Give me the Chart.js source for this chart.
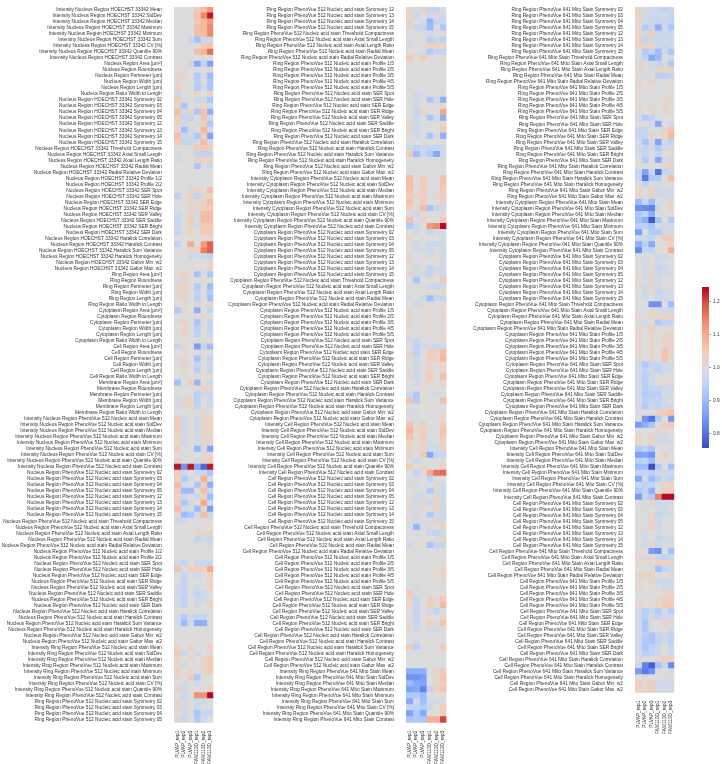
<!DOCTYPE html>
<html>
<head>
<meta charset="utf-8">
<title>Feature heatmap</title>
<script src="https://cdn.jsdelivr.net/npm/chart.js@4"></script>
<style>
    html, body { margin: 0; padding: 0; background: #fff; }
    canvas { position: absolute; top: 0; }
</style>
</head>
<body>
<canvas id="panelA" style="left:0"></canvas>
<canvas id="panelB" style="left:216px"></canvas>
<canvas id="panelC" style="left:449px"></canvas>
<canvas id="colorBar" style="left:700px"></canvas>
<script>
const replicates = ["PLVAP_rep1", "PLVAP_rep2", "PLVAP_rep3", "FAM110D_rep1", "FAM110D_rep2", "FAM110D_rep3"];

const intensityStats = ["Mean", "StdDev", "Median", "Maximum", "Minimum", "Sum", "CV [%]", "Quantile 90%", "Contrast"];
const shapeStats = ["Area [µm²]", "Roundness", "Perimeter [µm]", "Width [µm]", "Length [µm]", "Ratio Width to Length"];
const symmetryStats = ["Symmetry 02", "Symmetry 03", "Symmetry 04", "Symmetry 05", "Symmetry 12", "Symmetry 13", "Symmetry 14", "Symmetry 15"];
const radialStats = ["Threshold Compactness", "Axial Small Length", "Axial Length Ratio", "Radial Mean", "Radial Relative Deviation"];
const profileTwo = ["Profile 1/2", "Profile 2/2"];
const profileFive = ["Profile 1/5", "Profile 2/5", "Profile 3/5", "Profile 4/5", "Profile 5/5"];
const serStats = ["SER Spot", "SER Hole", "SER Edge", "SER Ridge", "SER Valley", "SER Saddle", "SER Bright", "SER Dark"];
const textureStats = ["Haralick Correlation", "Haralick Contrast", "Haralick Sum Variance", "Haralick Homogeneity", "Gabor Min  w2", "Gabor Max  w2"];

const colorTicks = [0.8, 0.9, 1.0, 1.1, 1.2];
const colorMin = 0.757;
const colorMax = 1.243;

// one line per feature, one number per replicate
const panelAValues = [
    [1,1,1,1.05,1.07,1.12],[1,1,1,1.06,1.14,1.23],[1,1,1,1.05,1.08,1.12],[1,1,1,1.07,1.08,1.14],[1,1,1,1.07,1.07,1.14],
    [1,1,0.97,0.91,0.97,0.97],[1,1,1,1,1.05,1.06],[1,1,1,1.07,1.09,1.17],[1,1,1,1,1,1],
    [1,1,0.97,0.87,0.95,0.86],[1,1.01,1,0.99,1,1.02],[1.03,1.02,1,0.93,0.98,0.9],[1.02,1,1,0.94,1,0.92],[1.03,1.01,1,0.93,0.98,0.92],[0.97,1,1,1.02,1,1.03],
    [1.05,1,1,0.97,0.97,0.92],[1.02,0.92,1,1,1.02,0.98],[1.07,0.98,1.03,0.92,1.06,0.88],[1.05,0.96,0.96,1,1.06,0.97],
    [1.03,0.98,1.01,0.98,1.04,0.92],[1.02,0.9,0.98,1.01,1.08,0.98],[1.07,0.97,0.98,0.92,1.04,0.86],[1.05,0.96,0.96,0.98,1.07,0.97],
    [1.01,1,1,1.05,1.05,1.04],[0.98,1,1.01,0.96,0.95,0.95],[0.98,1,1,1.03,1.03,1.03],[1,1,1,0.92,1,0.97],[1,1,1,1,1,1],
    [1,1,1,1,1,1],[1,1,1,1,1,1],
    [1,1,1.02,1.02,1.02,1.07],[0.95,1,1.03,0.95,1.02,1.03],[1,1,1.02,1.02,1.03,1.07],[0.99,1,1.02,1.02,1.03,1.05],
    [0.97,1,1.03,0.98,1.07,1.07],[0.97,1,1.05,0.98,1.07,1.07],[0.97,1,1.03,0.98,1.05,1.05],[0.96,1,1.03,1,1.05,1.05],
    [1,1,1,1,1,1.02],[0.95,1,1.1,1,1.12,1.18],[1,1,1.02,1.04,1.15,1.18],[1,1,0.97,0.98,0.97,0.95],[1,1,1.01,1,1,1.02],[1,1,1.01,1,1,1.03],
    [1.01,1.03,1,0.91,1,0.92],[0.98,1.02,1,1,1.01,1.01],[1.02,1.03,1,0.93,1,0.9],[1.02,1.03,1,0.95,1,0.93],[1.01,1.03,1,0.94,1,0.91],[1,1,1,1.02,1,1.02],
    [0.93,1.03,1,0.88,1,0.95],[1,1,1,1.01,1.02,1],[1.02,1.03,1,0.92,1,0.96],[1,1.03,1,0.94,1,0.96],[1,1.03,1,0.95,1,0.97],[1,1,1,1.01,1,1.01],
    [0.96,1.02,1,0.85,0.96,0.9],[1,1,1,1,1.01,1],[1.01,1.02,1,0.91,1,0.96],[1,1.02,1,0.95,1,0.97],[1,1.02,1,0.94,1,0.96],[1,1,1,1.01,1.01,1.01],
    [0.91,1,1.04,0.89,1,0.97],[1,1,1,1.01,1.02,1.02],[0.99,1,1,0.94,0.98,0.97],[0.98,1.02,1.03,0.94,1,0.97],[0.98,1.02,1.02,0.95,1,0.98],[1,1,1,1,1.01,1],
    [1.04,0.98,1,0.98,1.02,1.03],[1.04,0.98,1,0.97,1.03,1.03],[1.04,0.98,1,0.98,1.02,1.03],[1.03,0.98,1,0.98,1.02,1.02],[1.02,0.98,1,0.98,1.02,1.03],
    [1.05,1,1,0.89,0.98,0.86],[1,1,1,1,1.02,1.02],[1.03,1,1,0.98,1.02,1.03],[1.23,0.84,1.23,0.87,0.79,1.23],
    [1.05,0.97,1,0.97,0.97,0.92],[1.03,0.93,0.98,1,1.09,0.99],[1.07,0.98,1,0.92,1.04,0.88],[1.05,0.9,0.9,1,1.07,0.97],
    [1.03,0.97,1,0.97,1.03,0.9],[1.04,0.92,0.98,1,1.1,0.98],[1.07,0.98,1,0.9,1.03,0.85],[1.03,0.9,0.92,0.98,1.07,0.97],
    [0.97,0.98,1,1,1.01,1.01],[1,1,1,1,1,1],[1,1,1,1.02,1.02,1.04],[1,1,1,0.96,0.98,0.96],[1,1,1,1,1,0.98],
    [1,1,1,1,1,1],[1,1,1,1,1,1],
    [0.98,0.96,1,0.97,0.97,0.97],[1.06,1,1.04,1.04,1.04,1.1],[1,0.97,1,0.98,1,1.03],[1,0.96,1,1,1,1.03],
    [0.98,0.96,1,0.98,1,1.03],[0.97,0.96,1,0.96,0.97,1],[0.98,0.95,1,0.97,0.98,1.01],[0.98,0.96,1,0.98,1,1.03],
    [1,1,1,1,1,1],[0.98,0.93,0.98,0.96,0.96,1],[0.98,0.9,0.98,0.88,0.88,1],[1,1,1,1,1,0.99],[1,1,1,1,1,1],[1,1,1,1,1,1],
    [1.03,1,1.03,1,1,1.04],[1.05,0.97,1,0.98,1,1.02],[1.03,1,1.02,1,1.02,1.05],[1.03,0.98,1,1,1.03,1.05],[1.03,1,1.02,1,1.03,1.05],
    [1.02,1,1.05,0.92,1,1],[1,0.98,1,0.98,1,1],[1.03,0.98,1,1,1,1.03],[1,0.97,1,1.13,1.13,1.24],
    [1.02,0.98,1,0.97,0.98,1],[1.03,0.98,1,0.97,1,0.99],[1,0.97,1,0.92,0.97,0.96],[1.02,0.97,1,0.93,0.98,1]
];

const panelBValues = [
    [1.03,0.98,1.03,0.96,0.95,1],[1.02,0.97,1,0.98,1.02,0.97],[1.03,1,0.99,0.89,0.96,0.97],[1.02,0.96,0.96,0.9,1,0.92],
    [1,1,1,0.98,1,1.02],[0.99,1,1,0.94,0.97,0.94],[0.99,1,1,1.03,1.03,1.03],[1,1,0.98,0.93,0.96,0.95],[1.05,1,1.05,1,1,1.01],
    [1.01,1,1,1,1,1],[1,1,1,1,1,1],[1,1,1,1,1,1],[1,1,1,1,1,1],[1.01,1,1,1,1,1],
    [1,0.97,0.99,1,1,1.01],[1,0.98,1,0.92,0.98,0.88],[1,0.97,1,1,1,1.01],[1,0.96,1.03,1,1,1.1],
    [1,0.97,1,0.92,0.98,0.88],[1.02,0.97,1,1,1,1.02],[1.02,0.97,1,1,1,1.05],[1,0.98,1,0.92,0.98,0.88],
    [1,1,1,1,1,1],[0.97,0.95,0.97,0.96,0.96,0.98],[1.05,0.9,0.97,0.93,0.87,0.98],[1,1,1,1,1,0.99],[1,1,1,1,1,1],[1,1,1,1,1,1],
    [1.07,1,1.05,1,1,1.06],[1.07,1.01,1.04,1,1,1.06],[1.06,1.01,1.04,1,1,1.05],[1.05,1.02,1.04,1,1.02,1.04],[1.06,1,1.04,1,1,1.04],
    [1.04,1,1.07,0.91,0.97,0.97],[1,0.97,1.01,1,1,1.01],[1.07,1,1.02,1,1,1.05],[0.93,0.97,1,1.12,1.14,1.24],
    [1.01,0.98,1,0.96,0.99,0.99],[1.02,1,1,1,1,0.98],[1,0.98,1,0.97,0.97,0.98],[1.01,0.98,0.98,0.97,1,0.97],
    [1.02,1,1,0.98,1.01,0.98],[1.02,0.99,1,1,1.01,0.98],[1.01,0.98,1,0.95,0.98,0.98],[1.02,0.98,0.98,0.96,1.01,0.98],
    [1,0.92,1,1.01,1,1.05],[1,0.99,1,0.98,0.96,0.98],[1,1,1,1.01,1.01,1.02],[0.98,1,0.97,0.9,0.96,0.96],[1,0.97,1.02,1,1,1.01],
    [1.02,1,1,1.01,1,1.02],[1.02,1,1,1.01,1,1.02],[1.02,1,1,1.01,1,1.01],[1.01,1,1,1.01,1,1.01],[1.01,1,1,1.01,1,1.02],
    [0.98,0.96,1,1,1,1],[1,0.95,0.98,0.98,0.97,0.98],[1.02,0.95,1,1.04,1.03,1.07],[1.02,0.97,1,1.05,1.03,1.08],
    [1,0.97,1,1.02,1,1.03],[1.01,0.97,1,1.03,1,1.03],[1.02,0.97,1,1.05,1,1.07],[1,0.98,1,1.02,1,1.03],
    [1,1,1.01,1,1.01,1],[0.97,0.92,1,1,0.98,1],[1.06,0.93,1.01,1,1,1.07],[1,1,1,1.01,1,1],[0.99,0.99,1,1,1,1.01],[0.99,0.99,1,1,1,1.01],
    [1.06,1,1.04,1,1,1.05],[1.08,1.02,1.04,0.99,1,1.06],[1.06,1.01,1.04,1,1,1.05],[1.03,1.01,1.03,0.98,1,1.03],[1.03,1,1.03,0.98,0.98,1.03],
    [1.02,1,1.05,0.87,0.96,0.96],[1,0.97,1,1,1,1.01],[1.05,1,1.02,1,1,1.03],[1,0.96,1,1.1,1.16,1.17],
    [1,0.99,1,0.95,1,1],[1.01,0.99,1,1,1.02,0.98],[1,0.99,1,0.93,0.98,0.98],[1,0.98,0.98,1,1.02,0.97],
    [1.01,0.99,1.02,0.97,1.02,0.98],[1.01,0.99,1.01,1,1.03,0.97],[1,0.99,1,0.93,0.98,0.97],[1.01,0.98,0.99,1,1.03,0.98],
    [0.99,0.89,0.99,0.99,1,1.03],[1,0.99,1,0.97,0.95,0.98],[1,1,1,1,1.01,1.03],[0.98,1,1.01,0.92,0.96,0.96],[1,1,1,1,1,1.01],
    [1,1,1,1,1,1],[1,1,1,1,1,1.01],[1,1,1,1,1.01,1.02],[1,1,1,1,1.01,1.02],[1,1,1,1,1.01,1.02],
    [1,0.98,1,1,1,1],[1.05,0.99,1,1,1,1.01],[1.02,0.97,1,1.04,1.01,1.05],[1.02,0.96,1,1.04,1.01,1.08],
    [1,0.96,1,0.98,0.96,0.99],[1.01,0.96,1,1.01,1,1.02],[1.01,0.96,1,1.04,1.01,1.06],[1.02,0.97,1,0.98,0.98,1.01],
    [1,1,1,1,1,1],[1,0.98,1,1,1,1],[1.05,0.94,1,1,1,1.05],[1,1,1,1,1,1],[1,1,1,1,1,1],[1,1,1,1,1,1],
    [0.88,0.88,0.88,1,1.02,1.05],[0.84,0.84,0.85,1,1.02,1.06],[0.9,0.87,0.86,1,1.02,1.05],[0.86,0.87,0.82,0.95,1.03,1.06],[0.93,0.93,0.9,1,1,1.01],
    [0.87,0.98,0.91,0.98,0.98,1],[0.96,0.95,0.93,0.97,1,1.05],[0.86,0.93,0.87,1,1,1.04],[0.92,0.93,0.92,1.09,1.09,1.2]
];

const panelCValues = [
    [1.02,0.98,0.98,0.97,0.95,0.97],[1.03,0.98,0.98,0.97,0.98,0.96],[1.02,0.98,0.97,0.96,0.97,0.96],[1.02,0.93,0.96,0.88,0.97,0.92],
    [1.02,0.98,1.04,0.97,0.97,0.97],[1.03,0.96,0.97,0.97,0.98,0.97],[1.03,1.03,1.03,0.97,0.96,0.97],[1,0.93,0.96,0.9,0.97,0.92],
    [1,0.95,0.87,0.9,1,0.98],[1.02,1.01,0.98,0.96,0.98,0.93],[1.02,1,0.99,1.03,1.03,1.03],[1,0.99,1,0.94,0.94,0.95],[1.03,1,1.03,1,1,1.01],
    [1.02,1,1.01,1,1,1.01],[1.01,1,1,1,1,1.01],[1.01,1,1,1,1.01,1.01],[1.02,1,1.01,1,1.02,1.01],[1.02,1,1.02,1,1.02,1.01],
    [0.98,0.93,0.96,1,1,1],[1,1,0.98,0.87,1,0.98],[0.96,0.96,1,0.99,1.02,1.06],[0.96,0.96,1.02,1,1.03,1.08],
    [0.98,0.92,0.98,0.86,0.98,0.95],[0.98,0.96,0.98,0.93,0.98,0.98],[0.98,0.96,1,0.96,1,1.02],[1,0.93,1,0.87,0.98,0.98],
    [1,1,1,1,1.02,1.04],[0.96,0.86,0.96,0.8,0.96,0.97],[0.96,0.81,0.93,0.93,1,1.07],[1.01,0.95,1,0.98,1.01,1.01],[1.02,1,1.03,0.97,0.98,0.98],[1.02,1,1.03,0.97,0.98,0.98],
    [0.9,0.96,0.9,1,1,1.01],[0.84,0.83,0.82,0.97,1,1.03],[0.92,0.95,0.88,1,1,1],[0.91,0.88,0.77,0.92,1,0.93],[0.94,0.94,0.92,0.98,0.98,0.98],
    [0.85,1,0.93,0.93,0.98,0.98],[0.97,0.97,0.95,1,1.05,1.05],[0.88,0.94,0.87,1,1,1.03],[0.83,0.96,0.95,1,1.01,1.1],
    [1,0.99,1,0.97,0.98,0.99],[1,0.99,1.01,0.98,0.99,1],[1,0.98,1.01,0.96,0.98,0.99],[1,0.98,1.02,0.97,0.98,0.99],
    [1.01,0.99,1.02,0.98,1,1],[1.02,0.98,1.02,0.98,1,0.99],[1,0.98,1.01,0.96,0.98,0.99],[1,0.98,1,0.97,0.98,0.99],
    [1,1,0.84,0.84,1,0.9],[1,0.99,1.02,0.98,0.97,0.97],[1.02,1,1.02,1.03,1.03,1.03],[1,0.99,1,0.93,0.95,0.96],[1.02,1,1.04,1,1,1.01],
    [1.02,1,1.02,1,1.02,1.02],[1.02,1,1.02,1,1.03,1.02],[1.02,1,1.02,1,1.04,1.02],[1.02,1,1.02,1,1.06,1.02],[1.02,1,1.02,1,1.06,1.02],
    [0.97,0.93,0.96,0.96,0.98,0.98],[0.98,0.95,0.98,0.95,0.98,0.98],[0.98,0.94,0.98,1,1,1],[0.98,0.94,0.98,1,1.01,1.01],
    [0.98,0.94,0.96,0.96,0.98,0.98],[0.98,0.93,0.94,0.94,0.98,0.98],[0.98,0.94,0.96,0.96,0.98,1],[0.98,0.93,0.97,0.95,0.98,0.98],
    [1,1,1,1.03,1.05,1.06],[1,0.84,0.8,0.93,1,0.84],[0.85,0.88,0.92,1,1.04,1.05],[1,1,1,1.02,1.02,1],[1.03,1,1.03,0.98,0.98,0.99],[1.03,1,1.03,0.98,0.98,0.99],
    [0.93,0.95,0.92,1,1,1],[0.86,0.86,0.84,1,1.03,1],[0.94,0.95,0.9,1,1.01,1],[0.9,0.9,0.76,0.93,1,0.91],[0.96,0.96,0.94,0.98,0.98,0.98],
    [0.87,0.98,0.9,0.94,0.98,0.95],[0.97,0.95,0.96,1,1.02,1.03],[0.92,0.95,0.88,1,1.03,1.04],[0.85,0.96,0.93,1.15,1.24,1.24],
    [1,0.99,1.03,0.97,0.98,0.98],[1,0.99,1,0.98,0.98,1],[1,1,1.02,0.96,0.98,0.99],[1,0.99,1.03,0.97,1,1],
    [1,1,1.04,0.98,1,1],[1,0.99,1.01,0.98,1,1],[1,0.98,1,0.96,0.98,0.98],[1,0.98,1.03,0.97,0.99,0.99],
    [1,1,0.85,0.84,1,0.91],[1.02,0.98,1.02,0.97,0.96,0.96],[1.01,1,1.01,1.04,1.03,1.03],[1,1,1.01,0.91,0.96,0.97],[1.03,1.03,1.04,1,1,1.02],
    [1.02,1,1.02,0.97,0.97,0.97],[1.02,1,1.01,1,0.97,0.98],[1,1,1,1,1.02,1.02],[1,1,1,1.02,1.04,1.04],[1.02,1,1.01,1.03,1.05,1.05],
    [0.98,0.94,0.96,0.93,0.98,0.94],[0.98,0.94,0.98,0.96,0.98,0.97],[0.98,0.92,1,1,1.03,1.02],[0.98,0.92,0.99,1,1,0.97],
    [0.98,0.94,0.92,0.96,0.98,0.95],[0.98,0.93,0.92,0.95,0.98,0.95],[0.98,0.92,0.95,0.97,1,0.97],[0.98,0.94,0.95,0.97,1,0.97],
    [1,1,1,1.02,1.04,1.04],[0.97,0.82,0.78,0.91,0.96,0.83],[0.85,0.81,0.84,0.99,1,0.98],[1.01,0.99,1,1,1.01,1.01],[1.04,1.02,1.04,0.98,0.98,0.98],[1.04,1.02,1.04,0.98,0.98,0.98]
];

// matplotlib coolwarm, sampled every 10%
const coolwarmStops = [
    [59, 76, 192], [89, 119, 227], [123, 159, 249], [158, 190, 255], [192, 212, 245], [221, 220, 220],
    [242, 203, 183], [247, 172, 142], [238, 132, 104], [214, 82, 68], [180, 4, 38]
];

function coolwarm(value) {
    const t = Math.min(1, Math.max(0, (value - colorMin) / (colorMax - colorMin))) * 10;
    const i = Math.min(9, Math.floor(t));
    const c = coolwarmStops[i].map((v, k) => Math.round(v + (coolwarmStops[i + 1][k] - v) * (t - i)));
    return `rgb(${c[0]},${c[1]},${c[2]})`;
}

function featureLabels(region, stain, profiles) {
    const prefix = `${region} Region ${stain}`;
    return [...symmetryStats, ...radialStats, ...profiles, ...serStats, ...textureStats].map(s => `${prefix} ${s}`);
}
const intensityLabels = (region, stain) => intensityStats.map(s => `Intensity ${region} Region ${stain} ${s}`);
const shapeLabels = region => shapeStats.map(s => `${region} Region ${s}`);

const HOECHST = "HOECHST 33342";
const NUCLEIC = "PhenoVue 512 Nucleic acid stain";
const MITO = "PhenoVue 641 Mito Stain";

const ringNucleic = featureLabels("Ring", NUCLEIC, profileFive);

const panelALabels = [
    ...intensityLabels("Nucleus", HOECHST),
    ...shapeLabels("Nucleus"),
    ...featureLabels("Nucleus", HOECHST, profileTwo),
    ...shapeLabels("Ring"),
    ...shapeLabels("Cytoplasm"),
    ...shapeLabels("Cell"),
    ...shapeLabels("Membrane"),
    ...intensityLabels("Nucleus", NUCLEIC),
    ...featureLabels("Nucleus", NUCLEIC, profileTwo),
    ...intensityLabels("Ring", NUCLEIC),
    ...ringNucleic.slice(0, 4)
];
const panelBLabels = [
    ...ringNucleic.slice(4),
    ...intensityLabels("Cytoplasm", NUCLEIC),
    ...featureLabels("Cytoplasm", NUCLEIC, profileFive),
    ...intensityLabels("Cell", NUCLEIC),
    ...featureLabels("Cell", NUCLEIC, profileFive),
    ...intensityLabels("Ring", MITO)
];
const panelCLabels = [
    ...featureLabels("Ring", MITO, profileFive),
    ...intensityLabels("Cytoplasm", MITO),
    ...featureLabels("Cytoplasm", MITO, profileFive),
    ...intensityLabels("Cell", MITO),
    ...featureLabels("Cell", MITO, profileFive)
];

const TEXT_COLOR = "#333";
const FONT = { family: "'Liberation Sans', Arial, sans-serif", size: 4.8 };
const ROW_HEIGHT = 6.05;
const TOP = 3;
const AXIS_HEIGHT = 41.3;

function drawPanel(id, width, yAxisWidth, labels, rows) {
    const canvas = document.getElementById(id);
    canvas.width = width;
    canvas.height = Math.round(TOP + rows.length * ROW_HEIGHT + AXIS_HEIGHT);

    // each replicate is one stacked column, every cell one unit wide
    const datasets = replicates.map((rep, col) => ({
        label: rep,
        data: rows.map(() => 1),
        backgroundColor: rows.map(r => coolwarm(r[col])),
        borderWidth: 0,
        barPercentage: 1,
        categoryPercentage: 1
    }));

    return new Chart(canvas, {
        type: "bar",
        data: { labels, datasets },
        options: {
            indexAxis: "y",
            responsive: false,
            animation: false,
            layout: { padding: { top: TOP, right: 2, left: 0, bottom: 0 } },
            plugins: { legend: { display: false }, tooltip: { enabled: false } },
            scales: {
                x: {
                    type: "linear",
                    stacked: true,
                    min: 0,
                    max: replicates.length,
                    grid: { display: false },
                    border: { display: false },
                    afterBuildTicks: scale => { scale.ticks = replicates.map((_, i) => ({ value: i + 0.5 })); },
                    afterFit: scale => { scale.height = AXIS_HEIGHT; },
                    ticks: {
                        autoSkip: false,
                        minRotation: 90,
                        maxRotation: 90,
                        padding: 0,
                        color: TEXT_COLOR,
                        font: FONT,
                        callback: (value, i) => replicates[i]
                    }
                },
                y: {
                    stacked: true,
                    grid: { display: false },
                    border: { display: false },
                    afterFit: scale => { scale.width = yAxisWidth; },
                    ticks: { autoSkip: false, padding: 4, color: TEXT_COLOR, font: FONT }
                }
            }
        }
    });
}

function drawColorBar() {
    const canvas = document.getElementById("colorBar");
    canvas.width = 22;
    canvas.height = 764;

    const fill = context => {
        const area = context.chart.chartArea;
        if (!area) return coolwarm(1);
        const gradient = context.chart.ctx.createLinearGradient(0, area.bottom, 0, area.top);
        coolwarmStops.forEach((c, i) => gradient.addColorStop(i / 10, `rgb(${c[0]},${c[1]},${c[2]})`));
        return gradient;
    };

    return new Chart(canvas, {
        type: "bar",
        data: {
            labels: [""],
            datasets: [{ data: [[colorMin, colorMax]], backgroundColor: fill, borderWidth: 0, barPercentage: 1, categoryPercentage: 1 }]
        },
        options: {
            responsive: false,
            animation: false,
            layout: { padding: { top: 287, bottom: 316, left: 2, right: 0 } },
            plugins: { legend: { display: false }, tooltip: { enabled: false } },
            scales: {
                x: { display: false },
                y: {
                    position: "right",
                    min: colorMin,
                    max: colorMax,
                    border: { display: false },
                    grid: { drawOnChartArea: false, tickLength: 2, tickColor: TEXT_COLOR, tickWidth: 0.5 },
                    afterBuildTicks: scale => { scale.ticks = colorTicks.map(value => ({ value })); },
                    afterFit: scale => { scale.width = 13; },
                    ticks: { padding: 2, color: TEXT_COLOR, font: FONT, callback: value => value.toFixed(1) }
                }
            }
        }
    });
}

drawPanel("panelA", 216, 174, panelALabels, panelAValues);
drawPanel("panelB", 233, 190, panelBLabels, panelBValues);
drawPanel("panelC", 228, 186, panelCLabels, panelCValues);
drawColorBar();
</script>
</body>
</html>
